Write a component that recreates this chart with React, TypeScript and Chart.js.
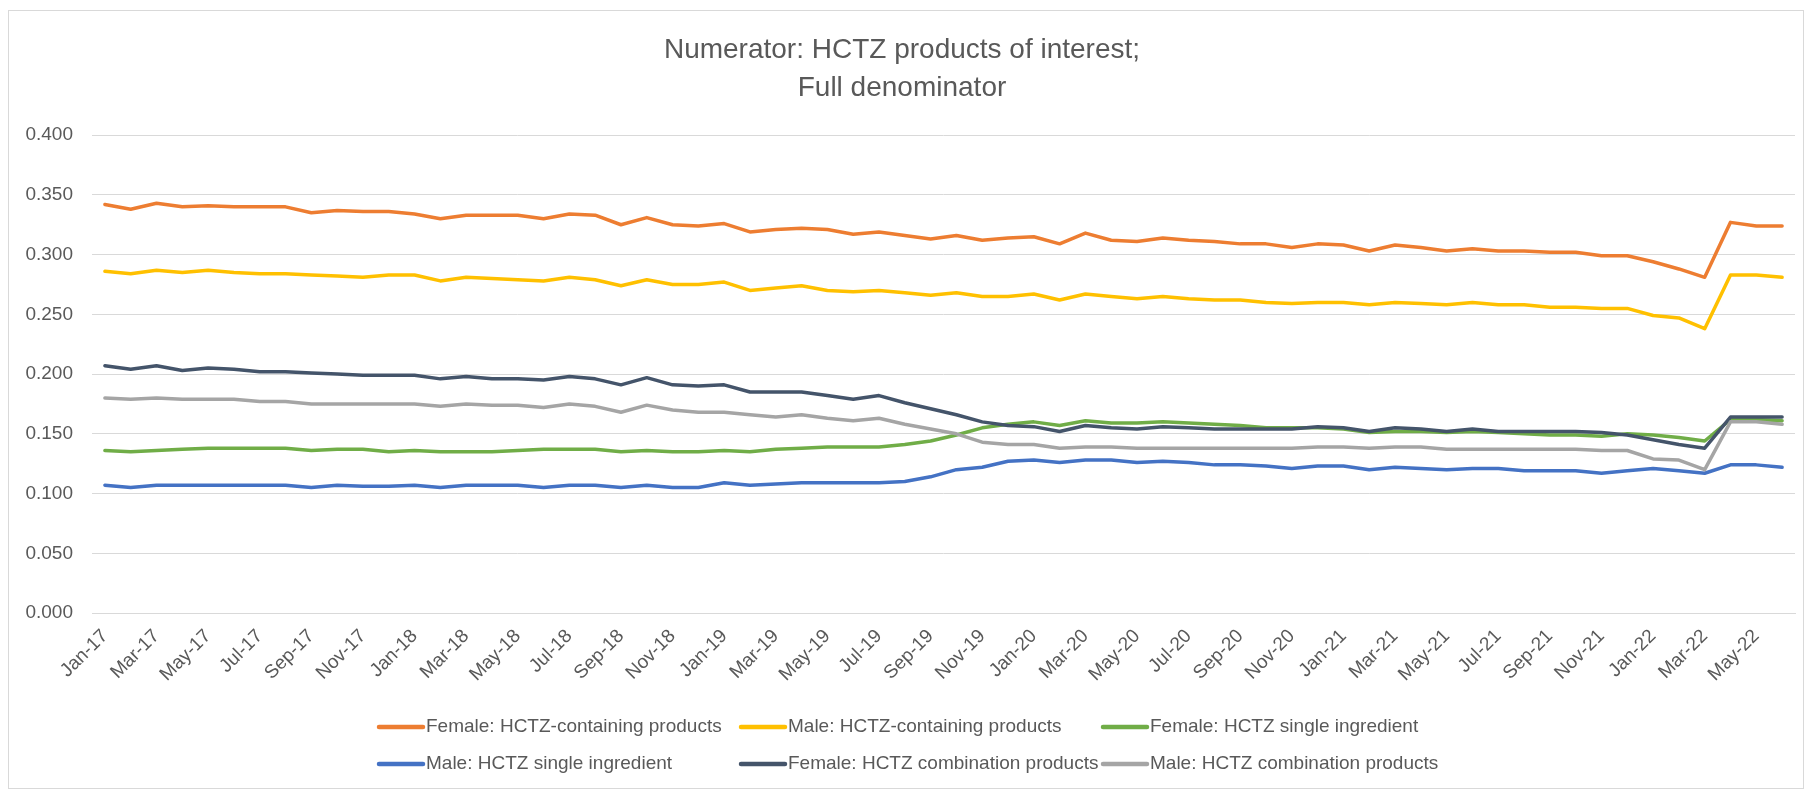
import React, { useEffect, useRef } from "react";
import { Chart, registerables } from "chart.js";

Chart.register(...registerables);

const months = [
  "Jan-17", "Feb-17", "Mar-17", "Apr-17", "May-17", "Jun-17", "Jul-17", "Aug-17", "Sep-17", "Oct-17", "Nov-17", "Dec-17",
  "Jan-18", "Feb-18", "Mar-18", "Apr-18", "May-18", "Jun-18", "Jul-18", "Aug-18", "Sep-18", "Oct-18", "Nov-18", "Dec-18",
  "Jan-19", "Feb-19", "Mar-19", "Apr-19", "May-19", "Jun-19", "Jul-19", "Aug-19", "Sep-19", "Oct-19", "Nov-19", "Dec-19",
  "Jan-20", "Feb-20", "Mar-20", "Apr-20", "May-20", "Jun-20", "Jul-20", "Aug-20", "Sep-20", "Oct-20", "Nov-20", "Dec-20",
  "Jan-21", "Feb-21", "Mar-21", "Apr-21", "May-21", "Jun-21", "Jul-21", "Aug-21", "Sep-21", "Oct-21", "Nov-21", "Dec-21",
  "Jan-22", "Feb-22", "Mar-22", "Apr-22", "May-22", "Jun-22",
];

const femaleContaining = [
  0.342, 0.338, 0.343, 0.340, 0.341, 0.340, 0.340, 0.340, 0.335, 0.337, 0.336, 0.336, 0.334, 0.330, 0.333, 0.333,
  0.333, 0.330, 0.334, 0.333, 0.325, 0.331, 0.325, 0.324, 0.326, 0.319, 0.321, 0.322, 0.321, 0.317, 0.319, 0.316, 0.313, 0.316,
  0.312, 0.314, 0.315, 0.309, 0.318, 0.312, 0.311, 0.314, 0.312, 0.311, 0.309, 0.309, 0.306, 0.309, 0.308, 0.303, 0.308,
  0.306, 0.303, 0.305, 0.303, 0.303, 0.302, 0.302, 0.299, 0.299, 0.294, 0.288, 0.281, 0.327, 0.324, 0.324,
];

const maleContaining = [
  0.286, 0.284, 0.287, 0.285, 0.287, 0.285, 0.284, 0.284, 0.283, 0.282, 0.281, 0.283, 0.283, 0.278, 0.281, 0.280,
  0.279, 0.278, 0.281, 0.279, 0.274, 0.279, 0.275, 0.275, 0.277, 0.270, 0.272, 0.274, 0.270, 0.269, 0.270, 0.268, 0.266, 0.268,
  0.265, 0.265, 0.267, 0.262, 0.267, 0.265, 0.263, 0.265, 0.263, 0.262, 0.262, 0.260, 0.259, 0.260, 0.260, 0.258, 0.260,
  0.259, 0.258, 0.260, 0.258, 0.258, 0.256, 0.256, 0.255, 0.255, 0.249, 0.247, 0.238, 0.283, 0.283, 0.281,
];

const femaleSingle = [
  0.136, 0.135, 0.136, 0.137, 0.138, 0.138, 0.138, 0.138, 0.136, 0.137, 0.137, 0.135, 0.136, 0.135, 0.135, 0.135,
  0.136, 0.137, 0.137, 0.137, 0.135, 0.136, 0.135, 0.135, 0.136, 0.135, 0.137, 0.138, 0.139, 0.139, 0.139, 0.141, 0.144, 0.149,
  0.155, 0.158, 0.160, 0.157, 0.161, 0.159, 0.159, 0.160, 0.159, 0.158, 0.157, 0.155, 0.155, 0.155, 0.154, 0.151, 0.152,
  0.152, 0.151, 0.152, 0.151, 0.150, 0.149, 0.149, 0.148, 0.150, 0.149, 0.147, 0.144, 0.162, 0.162, 0.161,
];

const maleSingle = [
  0.107, 0.105, 0.107, 0.107, 0.107, 0.107, 0.107, 0.107, 0.105, 0.107, 0.106, 0.106, 0.107, 0.105, 0.107, 0.107,
  0.107, 0.105, 0.107, 0.107, 0.105, 0.107, 0.105, 0.105, 0.109, 0.107, 0.108, 0.109, 0.109, 0.109, 0.109, 0.110, 0.114, 0.120,
  0.122, 0.127, 0.128, 0.126, 0.128, 0.128, 0.126, 0.127, 0.126, 0.124, 0.124, 0.123, 0.121, 0.123, 0.123, 0.120, 0.122,
  0.121, 0.120, 0.121, 0.121, 0.119, 0.119, 0.119, 0.117, 0.119, 0.121, 0.119, 0.117, 0.124, 0.124, 0.122,
];

const femaleCombination = [
  0.207, 0.204, 0.207, 0.203, 0.205, 0.204, 0.202, 0.202, 0.201, 0.200, 0.199, 0.199, 0.199, 0.196, 0.198, 0.196,
  0.196, 0.195, 0.198, 0.196, 0.191, 0.197, 0.191, 0.190, 0.191, 0.185, 0.185, 0.185, 0.182, 0.179, 0.182, 0.176, 0.171, 0.166,
  0.160, 0.157, 0.156, 0.152, 0.157, 0.155, 0.154, 0.156, 0.155, 0.154, 0.154, 0.154, 0.154, 0.156, 0.155, 0.152, 0.155,
  0.154, 0.152, 0.154, 0.152, 0.152, 0.152, 0.152, 0.151, 0.149, 0.145, 0.141, 0.138, 0.164, 0.164, 0.164,
];

const maleCombination = [
  0.180, 0.179, 0.180, 0.179, 0.179, 0.179, 0.177, 0.177, 0.175, 0.175, 0.175, 0.175, 0.175, 0.173, 0.175, 0.174,
  0.174, 0.172, 0.175, 0.173, 0.168, 0.174, 0.170, 0.168, 0.168, 0.166, 0.164, 0.166, 0.163, 0.161, 0.163, 0.158, 0.154, 0.150,
  0.143, 0.141, 0.141, 0.138, 0.139, 0.139, 0.138, 0.138, 0.138, 0.138, 0.138, 0.138, 0.138, 0.139, 0.139, 0.138, 0.139,
  0.139, 0.137, 0.137, 0.137, 0.137, 0.137, 0.137, 0.136, 0.136, 0.129, 0.128, 0.120, 0.160, 0.160, 0.158,
];

const seriesNames = [
  "Female: HCTZ-containing products",
  "Male: HCTZ-containing products",
  "Female: HCTZ single ingredient",
  "Male: HCTZ single ingredient",
  "Female: HCTZ combination products",
  "Male: HCTZ combination products",
];

const seriesValues = [femaleContaining, maleContaining, femaleSingle, maleSingle, femaleCombination, maleCombination];

const seriesColors = ["#ED7D31", "#FFC000", "#70AD47", "#4472C4", "#44546A", "#A5A5A5"];

const titleLines = ["Numerator: HCTZ products of interest;", "Full denominator"];

const FONT = '"Liberation Sans", Arial, sans-serif';
const TEXT = "#595959";

export default function App() {
  const ref = useRef<HTMLCanvasElement>(null);

  useEffect(() => {
    if (!ref.current) return;

    const legendPlugin = {
      id: "excelLegend",
      afterDraw(chart: any) {
        const ctx = chart.ctx;
        const colX = [368, 730, 1092];
        const rowY = [716, 753];
        ctx.save();
        chart.data.datasets.forEach((ds: any, i: number) => {
          const x = colX[i % 3];
          const y = rowY[Math.floor(i / 3)];
          ctx.strokeStyle = ds.borderColor;
          ctx.lineWidth = 4.5;
          ctx.lineCap = "round";
          ctx.beginPath();
          ctx.moveTo(x + 2, y);
          ctx.lineTo(x + 46, y);
          ctx.stroke();
          ctx.fillStyle = TEXT;
          ctx.font = `19px ${FONT}`;
          ctx.textBaseline = "middle";
          ctx.textAlign = "left";
          ctx.fillText(ds.label, x + 49, y);
        });
        ctx.restore();
      },
    };

    const chart = new Chart(ref.current, {
      type: "line",
      data: {
        labels: months,
        datasets: seriesValues.map((vals, i) => ({
          label: seriesNames[i],
          data: vals,
          borderColor: seriesColors[i],
          backgroundColor: seriesColors[i],
          borderWidth: 3.5,
          pointRadius: 0,
          pointHoverRadius: 0,
          tension: 0,
          fill: false,
          borderCapStyle: "round",
          borderJoinStyle: "round",
          order: seriesValues.length - 1 - i,
        })),
      },
      options: {
        animation: false,
        responsive: false,
        events: [],
        layout: { padding: { top: 0, left: 0, right: 8, bottom: 80 } },
        plugins: {
          legend: { display: false },
          tooltip: { enabled: false },
          title: {
            display: true,
            text: titleLines,
            color: TEXT,
            font: { family: FONT, size: 28, weight: "normal", lineHeight: 1.36 },
            padding: { top: 20, bottom: 28 },
          },
        },
        scales: {
          x: {
            offset: true,
            grid: { display: false },
            border: { display: true, color: "#d9d9d9", width: 1 },
            ticks: {
              autoSkip: false,
              maxRotation: 45,
              minRotation: 45,
              color: TEXT,
              font: { family: FONT, size: 19 },
              padding: 4,
              callback: (_v: any, i: number) => (i % 2 === 0 ? months[i] : ""),
            },
            afterFit: (s: any) => {
              s.height = 95;
            },
          },
          y: {
            min: 0,
            max: 0.4,
            grid: { color: "#d9d9d9", lineWidth: 1, drawTicks: false },
            border: { display: false },
            ticks: {
              stepSize: 0.05,
              color: TEXT,
              font: { family: FONT, size: 19 },
              padding: 19,
              callback: (v: any) => Number(v).toFixed(3),
            },
            afterFit: (s: any) => {
              s.width = 83;
            },
          },
        },
      },
      plugins: [legendPlugin],
    } as any);

    return () => chart.destroy();
  }, []);

  return (
    <div
      style={{
        position: "absolute",
        left: 8,
        top: 10,
        width: 1796,
        height: 779,
        border: "1px solid #d9d9d9",
        boxSizing: "border-box",
        background: "#fff",
      }}
    >
      <canvas ref={ref} width={1794} height={777} style={{ display: "block" }} />
    </div>
  );
}
